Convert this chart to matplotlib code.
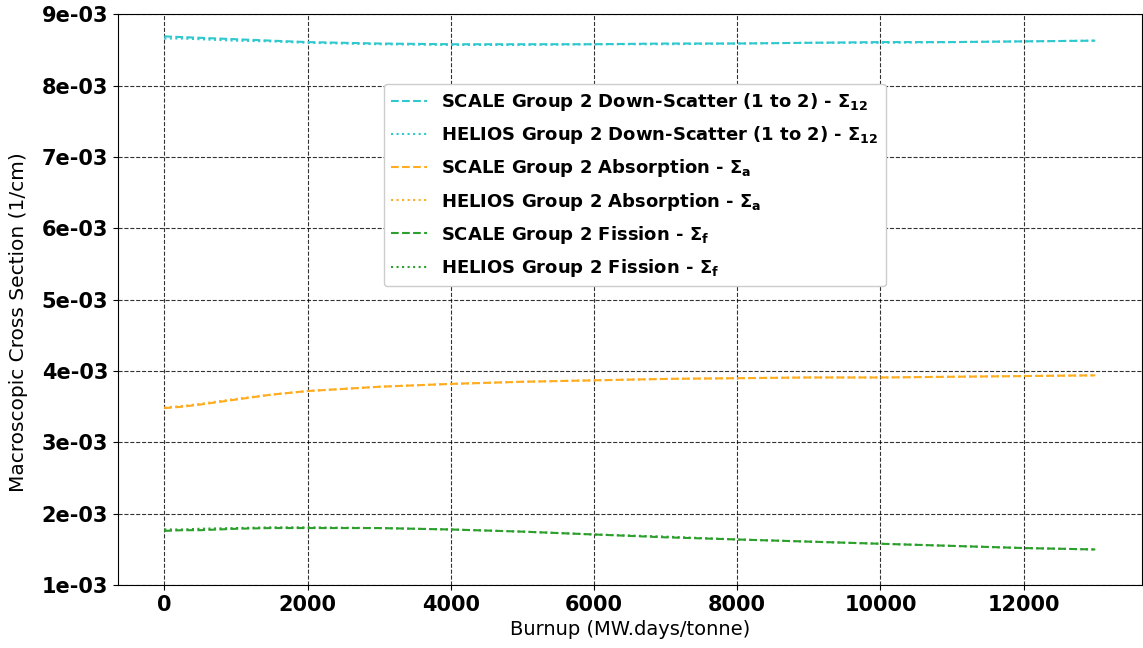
import numpy as np
import matplotlib
matplotlib.use('Agg')
import matplotlib.pyplot as plt

# burnup steps (MW.days/tonne)
burnup = [0, 250, 500, 1000, 1500, 2000, 3000, 4000, 5000, 6000, 7000, 8000, 9000, 10000, 11000, 12000, 13000]

# group 2 down-scatter
scale_ds = [8.69e-3, 8.68e-3, 8.67e-3, 8.65e-3, 8.63e-3, 8.61e-3, 8.59e-3, 8.58e-3, 8.58e-3, 8.58e-3,
            8.59e-3, 8.59e-3, 8.60e-3, 8.61e-3, 8.61e-3, 8.62e-3, 8.63e-3]
helios_ds = [8.66e-3, 8.66e-3, 8.65e-3, 8.63e-3, 8.62e-3, 8.60e-3, 8.58e-3, 8.57e-3, 8.57e-3, 8.58e-3,
             8.58e-3, 8.59e-3, 8.60e-3, 8.60e-3, 8.61e-3, 8.62e-3, 8.63e-3]

# group 2 absorption
scale_abs = [3.48e-3, 3.50e-3, 3.53e-3, 3.60e-3, 3.67e-3, 3.72e-3, 3.78e-3, 3.82e-3, 3.85e-3, 3.87e-3,
             3.89e-3, 3.90e-3, 3.91e-3, 3.91e-3, 3.92e-3, 3.93e-3, 3.94e-3]
helios_abs = [3.49e-3, 3.51e-3, 3.54e-3, 3.61e-3, 3.67e-3, 3.72e-3, 3.78e-3, 3.82e-3, 3.85e-3, 3.87e-3,
              3.89e-3, 3.90e-3, 3.91e-3, 3.91e-3, 3.92e-3, 3.93e-3, 3.94e-3]

# group 2 fission
scale_fis = [1.76e-3, 1.77e-3, 1.77e-3, 1.79e-3, 1.80e-3, 1.80e-3, 1.80e-3, 1.78e-3, 1.75e-3, 1.71e-3,
             1.67e-3, 1.64e-3, 1.61e-3, 1.58e-3, 1.55e-3, 1.52e-3, 1.50e-3]
helios_fis = [1.78e-3, 1.78e-3, 1.79e-3, 1.80e-3, 1.81e-3, 1.81e-3, 1.80e-3, 1.78e-3, 1.75e-3, 1.71e-3,
              1.68e-3, 1.64e-3, 1.61e-3, 1.58e-3, 1.55e-3, 1.52e-3, 1.50e-3]

c_ds = '#2ec8cf'
c_abs = '#ffad1f'
c_fis = '#2ca02c'

fig, ax = plt.subplots(figsize=(11.43, 6.48), dpi=100)

ax.plot(burnup, scale_ds, '--', color=c_ds, label=r'SCALE Group 2 Down-Scatter (1 to 2) - $\mathbf{\Sigma_{12}}$')
ax.plot(burnup, helios_ds, ':', color=c_ds, label=r'HELIOS Group 2 Down-Scatter (1 to 2) - $\mathbf{\Sigma_{12}}$')
ax.plot(burnup, scale_abs, '--', color=c_abs, label=r'SCALE Group 2 Absorption - $\mathbf{\Sigma_a}$')
ax.plot(burnup, helios_abs, ':', color=c_abs, label=r'HELIOS Group 2 Absorption - $\mathbf{\Sigma_a}$')
ax.plot(burnup, scale_fis, '--', color=c_fis, label=r'SCALE Group 2 Fission - $\mathbf{\Sigma_f}$')
ax.plot(burnup, helios_fis, ':', color=c_fis, label=r'HELIOS Group 2 Fission - $\mathbf{\Sigma_f}$')

ax.set_ylim(1e-3, 9e-3)
ax.set_yticks(np.arange(1e-3, 9.5e-3, 1e-3))
ax.set_yticklabels(['%de-03' % i for i in range(1, 10)])
ax.set_xticks(range(0, 13000, 2000))

for lab in ax.get_xticklabels() + ax.get_yticklabels():
    lab.set_fontweight('bold')
    lab.set_fontsize(15)

ax.set_xlabel('Burnup (MW.days/tonne)', fontsize=14)
ax.set_ylabel('Macroscopic Cross Section (1/cm)', fontsize=14.5)
ax.yaxis.set_label_coords(-0.088, 0.46)
ax.grid(True, color='black', linestyle='--', linewidth=0.8, alpha=0.8)

ax.legend(loc='upper center', bbox_to_anchor=(0.505, 0.894),
          prop={'weight': 'bold', 'size': 13}, labelspacing=0.62, framealpha=1)

plt.subplots_adjust(left=0.103, right=0.999, top=0.978, bottom=0.097)
plt.savefig('out.png', dpi=100)
